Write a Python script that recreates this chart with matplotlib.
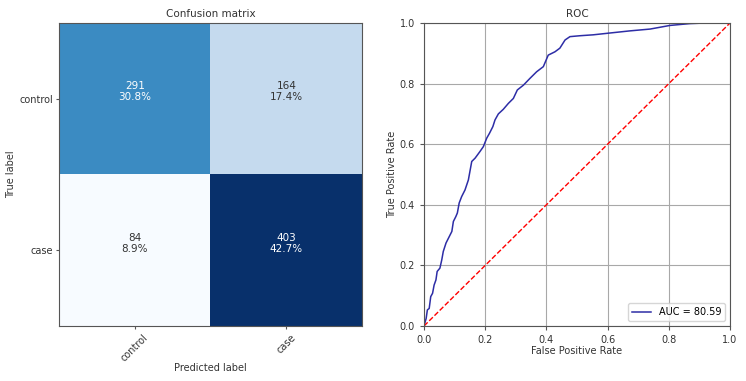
import numpy as np
import matplotlib
matplotlib.use("Agg")
import matplotlib.pyplot as plt

classes = ["control", "case"]
cm = np.array([[291, 164], [84, 403]])

fpr = [0.0, 0.007, 0.011, 0.017, 0.022, 0.028, 0.033, 0.039, 0.043, 0.052, 0.058,
       0.063, 0.072, 0.083, 0.091, 0.096, 0.104, 0.109, 0.115, 0.123, 0.134, 0.145,
       0.156, 0.167, 0.183, 0.194, 0.205, 0.214, 0.225, 0.232, 0.243, 0.259, 0.276,
       0.292, 0.305, 0.325, 0.346, 0.368, 0.390, 0.406, 0.428, 0.444, 0.461, 0.477,
       0.510, 0.553, 0.608, 0.673, 0.739, 0.804, 0.869, 0.920, 1.0]
tpr = [0.0, 0.025, 0.053, 0.058, 0.097, 0.108, 0.135, 0.152, 0.180, 0.191, 0.218,
       0.246, 0.274, 0.296, 0.312, 0.345, 0.361, 0.373, 0.406, 0.427, 0.449, 0.482,
       0.543, 0.554, 0.576, 0.592, 0.620, 0.636, 0.658, 0.680, 0.700, 0.715, 0.735,
       0.751, 0.779, 0.795, 0.817, 0.839, 0.856, 0.894, 0.905, 0.917, 0.944, 0.955,
       0.958, 0.961, 0.967, 0.974, 0.980, 0.992, 0.998, 1.0, 1.0]
auc_label = "AUC = 80.59"

plt.rcParams['font.family'] = ['DejaVu Sans']
fs = 7
tc = '#333333'
edge = '#555555'
fig = plt.figure(figsize=(7.46, 3.81), dpi=100)

# Confusion matrix
ax1 = fig.add_axes([59/746, 55/381, 303/746, 303/381])
ax1.imshow(cm, interpolation='nearest', cmap=plt.cm.Blues, aspect='auto')
ax1.set_title("Confusion matrix", fontsize=7.5, pad=4, color=tc)
ax1.set_xticks(range(len(classes)))
ax1.set_xticklabels(classes, rotation=45, fontsize=fs, color=tc)
ax1.set_yticks(range(len(classes)))
ax1.set_yticklabels(classes, fontsize=fs, color=tc)
total = cm.sum()
thresh = cm.max() / 2.0
for i in range(cm.shape[0]):
    for j in range(cm.shape[1]):
        pct = np.floor(1000.0 * cm[i, j] / total) / 10.0
        ax1.annotate("{}\n{:.1f}%".format(cm[i, j], pct), xy=(j, i),
                     xytext=(0, 5), textcoords='offset points',
                     ha='center', va='center', fontsize=7.5, linespacing=1.15,
                     color='white' if cm[i, j] > thresh else tc)
ax1.set_ylabel("True label", fontsize=fs, color=tc, labelpad=2)
ax1.set_xlabel("Predicted label", fontsize=fs, color=tc, labelpad=0)
for s in ax1.spines.values():
    s.set_color(edge)
ax1.tick_params(length=2, pad=2.5, color=edge)

# ROC
ax2 = fig.add_axes([424/746, 55/381, 306/746, 303/381])
ax2.plot(fpr, tpr, color='#2d2da6', lw=1.1, label=auc_label)
ax2.plot([0, 1], [0, 1], 'r--', lw=1.0)
ax2.set_xlim(0, 1)
ax2.set_ylim(0, 1)
ax2.set_title("ROC", fontsize=7.5, pad=4, color=tc)
ax2.set_xlabel("False Positive Rate", fontsize=fs, color=tc, labelpad=1)
ax2.set_ylabel("True Positive Rate", fontsize=fs, color=tc, labelpad=2)
ax2.grid(True, color='#a8a8a8', lw=0.8)
ax2.tick_params(labelsize=fs, length=3, color=edge, labelcolor=tc)
for s in ax2.spines.values():
    s.set_color(edge)
ax2.legend(loc='lower right', fontsize=fs)

fig.savefig("out.png", dpi=100)
